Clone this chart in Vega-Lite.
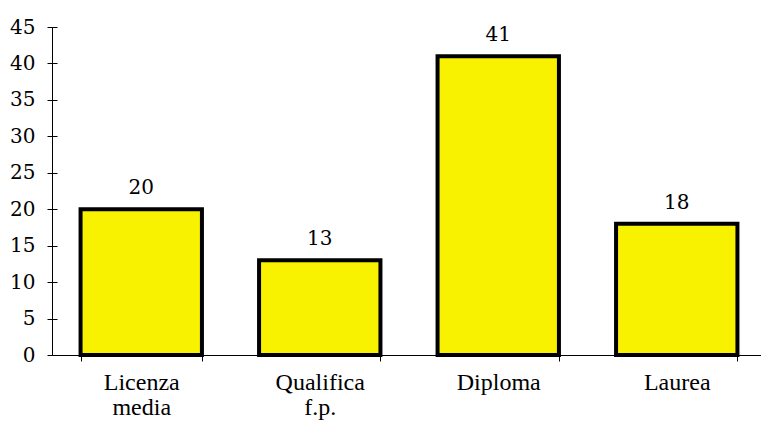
{
  "$schema": "https://vega.github.io/schema/vega-lite/v6.json",
  "autosize": {"type": "none"},
  "padding": {"left": 52, "top": 27, "right": 0, "bottom": 68},
  "width": 709,
  "height": 328,
  "background": "white",
  "config": {"view": {"stroke": null}, "font": "DejaVu Serif"},
  "data": {"values": [
    {"cat": "Licenza|media", "value": 20},
    {"cat": "Qualifica|f.p.", "value": 13},
    {"cat": "Diploma", "value": 41},
    {"cat": "Laurea", "value": 18}
  ]},
  "layer": [
    {
      "mark": {"type": "bar", "fill": "#f8f100", "stroke": "black", "strokeWidth": 4},
      "encoding": {
        "x": {"field": "cat", "type": "nominal", "sort": null,
          "scale": {"range": [0, 714], "paddingInner": 0.32, "paddingOuter": 0.16},
          "axis": {"title": null, "orient": "bottom", "labelAngle": 0, "labelExpr": "split(datum.label, '|')",
            "tickBand": "extent", "tickSize": 6, "tickColor": "black", "domainColor": "black",
            "labelFont": "Liberation Serif", "labelFontSize": 24, "labelColor": "black",
            "labelPadding": 9, "labelLineHeight": 25, "grid": false}},
        "y": {"field": "value", "type": "quantitative",
          "scale": {"domain": [0, 45], "nice": false},
          "axis": {"title": null, "orient": "left", "values": [0,5,10,15,20,25,30,35,40,45], "tickSize": 5,
            "tickColor": "black", "domainColor": "black", "labelFont": "DejaVu Serif",
            "labelFontSize": 20, "labelColor": "black", "labelPadding": 12, "grid": false}}
      }
    },
    {
      "mark": {"type": "text", "baseline": "alphabetic", "dy": -15, "fontSize": 20, "font": "DejaVu Serif", "color": "black"},
      "encoding": {
        "x": {"field": "cat", "type": "nominal", "sort": null,
          "axis": {"title": null, "orient": "bottom", "labels": false, "domain": false, "tickBand": "extent",
            "tickSize": 6, "offset": -6, "tickColor": "black", "grid": false}},
        "y": {"field": "value", "type": "quantitative",
          "axis": {"title": null, "orient": "left", "labels": false, "domain": false, "values": [0,5,10,15,20,25,30,35,40,45],
            "tickSize": 5, "offset": -5, "tickColor": "black", "grid": false}},
        "text": {"field": "value", "type": "quantitative"}
      }
    }
  ],
  "resolve": {"axis": {"x": "independent", "y": "independent"}}
}
